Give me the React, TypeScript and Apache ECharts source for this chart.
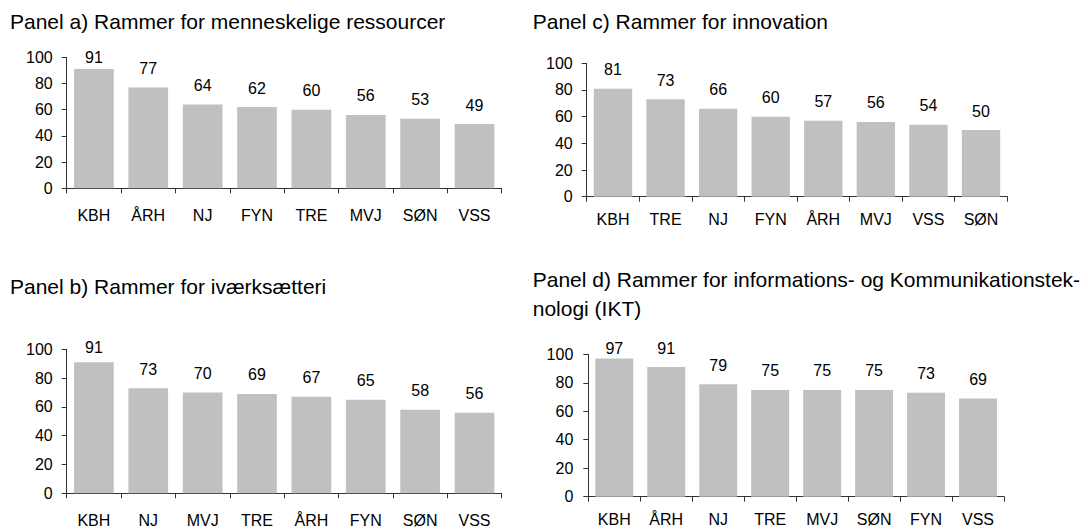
import React, { useEffect, useRef } from "react";
import * as echarts from "echarts";

// Panel a) Rammer for menneskelige ressourcer
const categoriesA = ["KBH", "ÅRH", "NJ", "FYN", "TRE", "MVJ", "SØN", "VSS"];
const valuesA = [91, 77, 64, 62, 60, 56, 53, 49];
// Panel b) Rammer for iværksætteri
const categoriesB = ["KBH", "NJ", "MVJ", "TRE", "ÅRH", "FYN", "SØN", "VSS"];
const valuesB = [91, 73, 70, 69, 67, 65, 58, 56];
// Panel c) Rammer for innovation
const categoriesC = ["KBH", "TRE", "NJ", "FYN", "ÅRH", "MVJ", "VSS", "SØN"];
const valuesC = [81, 73, 66, 60, 57, 56, 54, 50];
// Panel d) Rammer for IKT
const categoriesD = ["KBH", "ÅRH", "NJ", "TRE", "MVJ", "SØN", "FYN", "VSS"];
const valuesD = [97, 91, 79, 75, 75, 75, 73, 69];

const titles = [
  "Panel a) Rammer for menneskelige ressourcer",
  "Panel b) Rammer for iværksætteri",
  "Panel c) Rammer for innovation",
  "Panel d) Rammer for informations- og Kommunikationstek-\nnologi (IKT)",
];

const yMin = 0;
const yMax = 100;
const yStep = 20;

const FONT = "'Liberation Sans', Arial, Helvetica, sans-serif";
const TEXT = "#000000";
const AXIS = "#333333";
const BAR = "#c0c0c0";

export default function App() {
  const ref = useRef<HTMLDivElement>(null);

  useEffect(() => {
    if (!ref.current) return;
    const chart = echarts.init(ref.current, undefined, { renderer: "svg" });

    const panels = [
      { cats: categoriesA, vals: valuesA, grid: { left: 66.7, top: 57.3, width: 435, height: 131 }, xMargin: 19, yMargin: 14, over: { 0: 4 } as Record<number, number> },
      { cats: categoriesB, vals: valuesB, grid: { left: 66.7, top: 349.3, width: 435, height: 144 }, xMargin: 19, yMargin: 14, over: { 0: 7 } as Record<number, number> },
      { cats: categoriesC, vals: valuesC, grid: { left: 586.7, top: 63.3, width: 420.6, height: 133.4 }, xMargin: 15, yMargin: 14, over: {} as Record<number, number> },
      { cats: categoriesD, vals: valuesD, grid: { left: 588.3, top: 354.3, width: 415.7, height: 142.4 }, xMargin: 15, yMargin: 15, over: { 0: 2 } as Record<number, number> },
    ];

    const titleOpts = [
      { text: titles[0], left: 10, top: 7 },
      { text: titles[1], left: 10, top: 272 },
      { text: titles[2], left: 532.7, top: 7 },
      { text: titles[3], left: 532.7, top: 265 },
    ].map((t) => ({
      ...t,
      padding: 0,
      textStyle: { fontFamily: FONT, fontSize: 21, fontWeight: "normal", color: TEXT, lineHeight: 29 },
    }));

    const option: any = {
      animation: false,
      backgroundColor: "#ffffff",
      title: titleOpts,
      grid: panels.map((p) => ({ ...p.grid, containLabel: false })),
      xAxis: panels.map((p, i) => ({
        type: "category",
        gridIndex: i,
        data: p.cats,
        axisLine: { lineStyle: { color: AXIS, width: 1 } },
        axisTick: { show: true, length: 5, lineStyle: { color: AXIS } },
        axisLabel: { fontFamily: FONT, fontSize: 16, color: TEXT, margin: p.xMargin, interval: 0 },
        splitLine: { show: false },
      })),
      yAxis: panels.map((p, i) => ({
        type: "value",
        gridIndex: i,
        min: yMin,
        max: yMax,
        interval: yStep,
        axisLine: { show: true, lineStyle: { color: AXIS, width: 1 } },
        axisTick: { show: true, length: 5, lineStyle: { color: AXIS } },
        axisLabel: { fontFamily: FONT, fontSize: 16, color: TEXT, margin: p.yMargin },
        splitLine: { show: false },
      })),
      series: panels.map((p, i) => ({
        type: "bar",
        xAxisIndex: i,
        yAxisIndex: i,
        barCategoryGap: "27%",
        itemStyle: { color: BAR },
        label: {
          show: true,
          position: "top",
          distance: 11,
          fontFamily: FONT,
          fontSize: 16,
          color: TEXT,
        },
        data: p.vals.map((v, j) =>
          p.over[j] !== undefined ? { value: v, label: { distance: p.over[j] } } : v
        ),
      })),
    };

    chart.setOption(option);
    return () => chart.dispose();
  }, []);

  return (
    <div
      ref={ref}
      style={{ position: "fixed", left: 0, top: 0, width: 1088, height: 529, background: "#fff" }}
    />
  );
}
